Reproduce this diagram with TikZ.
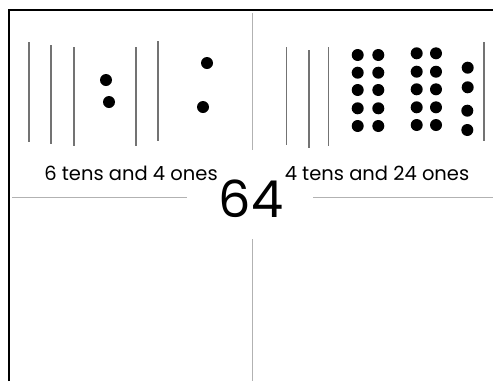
\documentclass[tikz,border=0pt]{standalone}
\usepackage{fontspec}
\setmainfont{Poppins}
\begin{document}
\begin{tikzpicture}[x=1pt,y=-1pt,
  tally/.style={draw=black!55,line width=1.2pt},
  guide/.style={draw=black!30,line width=0.9pt},
  frame/.style={draw=black,line width=2pt},
  dot/.style={circle,fill=black,inner sep=0pt,minimum size=12pt},
  lbl/.style={font=\fontsize{19.5}{22}\selectfont,inner sep=0pt}]
\useasboundingbox (0,0) rectangle (493,381);
% frame
\coordinate (fbl) at (8.5,381);
\coordinate (ftl) at (8.5,9.5);
\coordinate (ftr) at (493,9.5);
\draw[frame] (fbl) -- (ftl) -- (ftr);
% guides
\draw[guide] (252,13) -- (252,150);
\draw[guide] (252,239) -- (252,381);
\draw[guide] (12,197.5) -- (187,197.5);
\draw[guide] (313,197.5) -- (493,197.5);
% left tallies
\draw[tally] (29,42) -- (29,142);
\draw[tally] (51,45) -- (51,144);
\draw[tally] (74,47) -- (74,146);
\draw[tally] (136,47) -- (136,146);
\draw[tally] (158,41) -- (158,141);
\node[dot] (l1) at (106,80) {};
\node[dot] (l2) at (109,102) {};
\node[dot] (l3) at (207,63) {};
\node[dot] (l4) at (203,107) {};
% right tallies
\draw[tally] (286.7,47) -- (286.7,145);
\draw[tally] (309,50) -- (309,148);
\draw[tally] (328.3,47) -- (328.3,146);
\draw[tally] (484,42) -- (484,141);
\foreach \y [count=\i] in {55,72.7,90,108.3,126}{
  \node[dot] (a\i) at (357.7,\y) {};
  \node[dot] (b\i) at (378.3,\y) {};
}
\foreach \y [count=\i] in {53.3,71.7,89.3,107.3,125}{
  \node[dot] (c\i) at (416.7,\y) {};
  \node[dot] (d\i) at (436,\y) {};
}
\foreach \y/\x [count=\i] in {67.7/467.7,87.3/467.7,110.7/467.3,130/467.3}{
  \node[dot] (e\i) at (\x,\y) {};
}
% labels
\node[lbl,anchor=base] (t1) at (131,180) {6 tens and 4 ones};
\node[lbl,anchor=base] (t2) at (377,180) {4 tens and 24 ones};
\node[font=\fontsize{51}{56}\selectfont,inner sep=0pt,anchor=base] (n) at (251,217) {64};
\end{tikzpicture}
\end{document}
